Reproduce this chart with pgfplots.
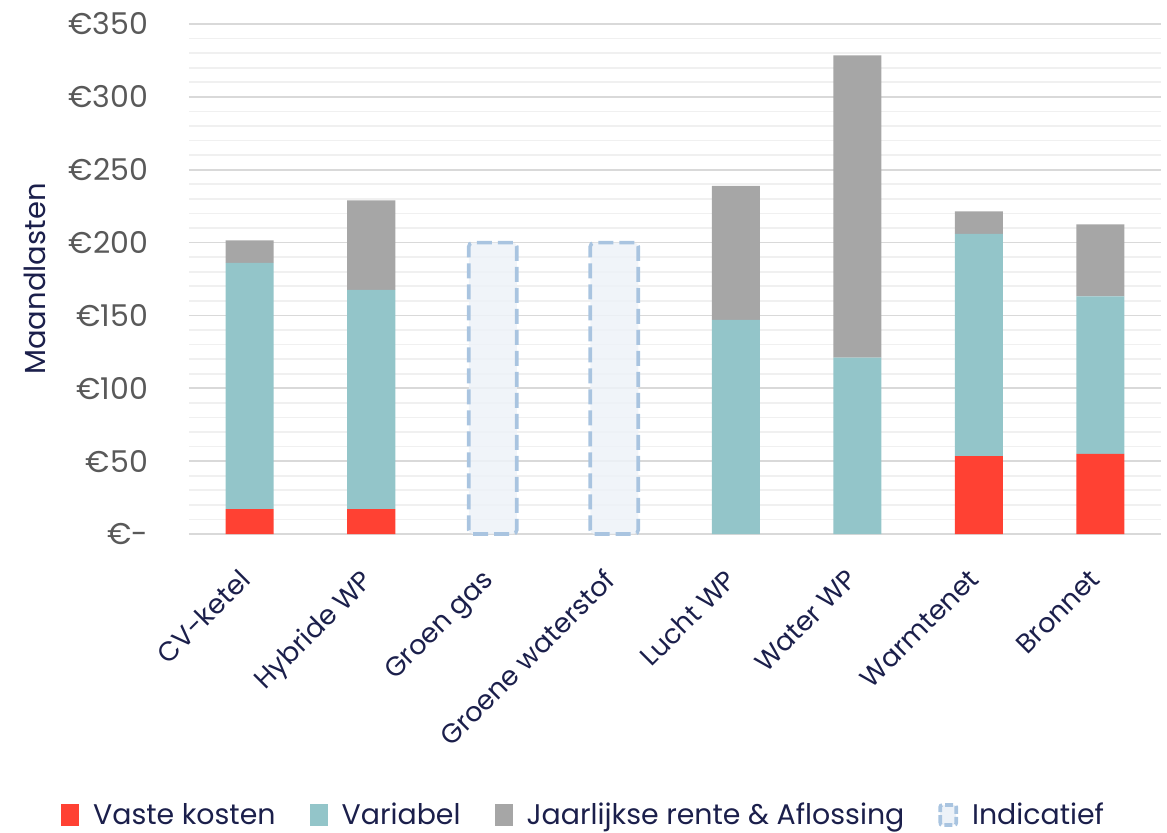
\documentclass[border=0pt]{standalone}
\usepackage{fontspec}
\setmainfont{Poppins}
\usepackage{pgfplots}
\pgfplotsset{compat=1.18}
\definecolor{cred}{HTML}{FF4133}
\definecolor{cteal}{HTML}{93C5C9}
\definecolor{cgray}{HTML}{A6A6A6}
\definecolor{cnavy}{HTML}{1B1F4B}
\definecolor{ctick}{HTML}{595959}
\definecolor{indline}{HTML}{A9C4E0}
\definecolor{indfill}{HTML}{EDF2F8}
\definecolor{gmaj}{HTML}{D9D9D9}
\definecolor{gmin}{HTML}{F0F0F0}
\begin{document}
\begin{tikzpicture}
\useasboundingbox (-94.5pt,-149pt) rectangle (489pt,267pt);
\begin{axis}[
  scale only axis, width=486pt, height=255pt,
  xmin=-0.5, xmax=7.5, ymin=0, ymax=350,
  ybar stacked, bar width=24pt,
  axis line style={draw=none},
  major tick length=0pt, minor tick length=0pt,
  xtick={0,...,7},
  xticklabels={CV-ketel, Hybride WP, Groen gas, Groene waterstof, Lucht WP, Water WP, Warmtenet, Bronnet},
  xticklabel style={rotate=45, anchor=north east, font=\fontsize{13.5pt}{16pt}\selectfont, text=cnavy, inner sep=1pt, xshift=-15pt, yshift=-6.5pt},
  ytick={0,50,...,350},
  yticklabels={€-, €50, €100, €150, €200, €250, €300, €350},
  yticklabel style={font=\fontsize{15pt}{17pt}\selectfont, text=ctick, anchor=east, xshift=-17pt},
  minor ytick={10,20,30,40,60,70,80,90,110,120,130,140,160,170,180,190,210,220,230,240,260,270,280,290,310,320,330,340},
  ymajorgrids, yminorgrids,
  major grid style={gmaj, line width=0.8pt},
  minor grid style={gmin, line width=0.8pt},
  ylabel={Maandlasten},
  ylabel style={at={(axis description cs:0,0.5)}, anchor=center, yshift=77pt, font=\fontsize{14.5pt}{16pt}\selectfont, text=cnavy},
  clip=false,
  legend columns=4,
  legend style={draw=none, fill=none, at={(axis description cs:0.407,-0.551)}, anchor=center,
    font=\fontsize{14.2pt}{16pt}\selectfont, text=cnavy,
    /tikz/every odd column/.append style={column sep=5pt},
    /tikz/every even column/.append style={column sep=15pt}},
  legend image code/.code={\draw[#1, draw=none] (0pt,-5.5pt) rectangle (9pt,5.5pt);},
]
\addplot[fill=cred, draw=none] coordinates {(0,17) (1,17) (2,0) (3,0) (4,0) (5,0) (6,53.5) (7,55)};
\addlegendentry{Vaste kosten}
\addplot[fill=cteal, draw=none] coordinates {(0,169) (1,150.5) (2,0) (3,0) (4,147) (5,121) (6,152.5) (7,108)};
\addlegendentry{Variabel}
\addplot[fill=cgray, draw=none] coordinates {(0,15.5) (1,61.5) (2,0) (3,0) (4,92) (5,207.5) (6,15.5) (7,49.5)};
\addlegendentry{Jaarlijkse rente \& Aflossing}
\addlegendimage{legend image code/.code={\draw[indline, line width=1.8pt, dash pattern=on 4pt off 1.5pt, fill=indfill, rounded corners=1pt] (0.5pt,-5pt) rectangle (8.5pt,5pt);}}
\addlegendentry{Indicatief}
\end{axis}
\begin{axis}[
  scale only axis, width=486pt, height=255pt,
  xmin=-0.5, xmax=7.5, ymin=0, ymax=350,
  hide axis, clip=false,
  ybar, bar width=24pt,
]
\addplot[fill=indfill, fill opacity=0.85, draw=indline, line width=1.8pt, dash pattern=on 7.5pt off 3pt, rounded corners=2pt] coordinates {(2,200) (3,200)};
\end{axis}
\end{tikzpicture}
\end{document}
